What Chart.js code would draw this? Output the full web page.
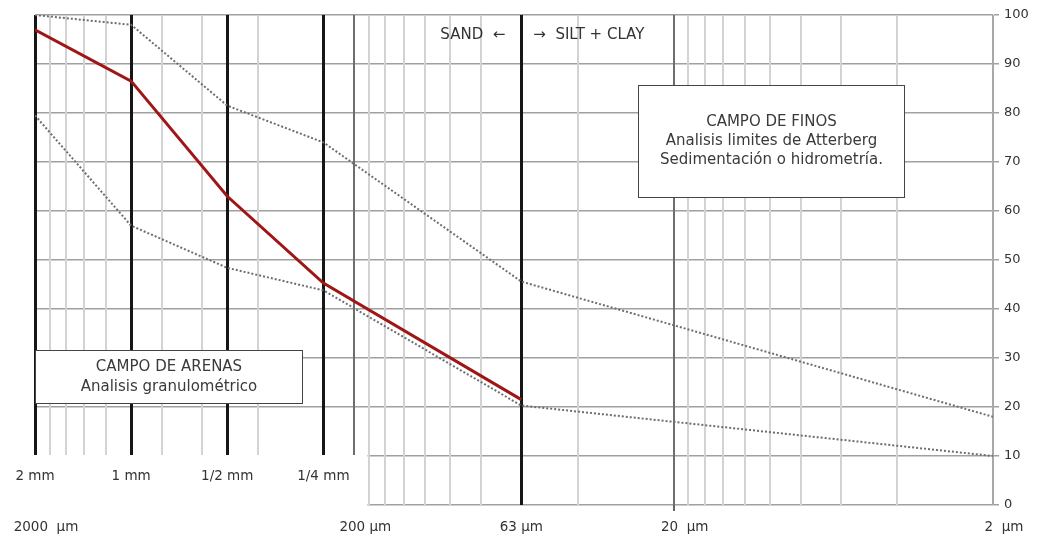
<!DOCTYPE html>
<html>
<head>
<meta charset="utf-8">
<script src="https://cdn.jsdelivr.net/npm/chart.js@4"></script>
<style>
  html, body { margin: 0; padding: 0; background: #fff; }
  #wrap { width: 1037px; height: 537px; }
</style>
</head>
<body>
<div id="wrap"><canvas id="granChart"></canvas></div>
<script>
// grain size (µm) and percent passing
const sampleSizes = [2000, 1000, 500, 250, 60];
const samplePassing = [97, 86.5, 63, 45.3, 21.5];

const envelopeSizes = [2000, 1000, 500, 250, 60, 2];
const upperPassing = [100, 98, 81.5, 74, 45.6, 18];
const lowerPassing = [79.5, 57, 48.4, 43.8, 20.3, 10];

// vertical grid on the log axis
const gridSizes = [2000, 1800, 1600, 1400, 1200, 1000, 800, 600, 500, 400, 250, 200,
  180, 160, 140, 120, 100, 80, 60, 40, 20, 18, 16, 14, 12, 10, 8, 6, 4, 2];
const sieveSizes = [2000, 1000, 500, 250, 60];
const decadeSizes = [200, 20];

const mmSizes = [2000, 1000, 500, 250];
const mmLabels = ['2 mm', '1 mm', '1/2 mm', '1/4 mm'];
const umSizes = [2000, 200, 60, 20, 2];
const umLabels = ['2000  µm', '200 µm', '63 µm', '20  µm', '2  µm'];

const pctTicks = [0, 10, 20, 30, 40, 50, 60, 70, 80, 90, 100];

Chart.defaults.font.family = '"DejaVu Sans", sans-serif';

function pts(xs, ys) {
  return xs.map((x, i) => ({ x: x, y: ys[i] }));
}

// white area under the mm labels + boxes and texts
const annotations = {
  id: 'annotations',
  beforeDatasetsDraw(chart) {
    const ctx = chart.ctx;
    const x = chart.scales.x, y = chart.scales.y;
    const right = x.getPixelForValue(180) - 1.5;
    const top = y.getPixelForValue(10) - 1;
    ctx.save();
    ctx.fillStyle = '#fff';
    ctx.fillRect(0, top, right, chart.height - top);
    ctx.restore();
  },
  afterDraw(chart) {
    const ctx = chart.ctx;
    const x = chart.scales.x, y = chart.scales.y;
    ctx.save();

    function box(x1, x2, y1, y2, lines, lh) {
      const l = Math.round(x.getPixelForValue(x1)) + 0.5;
      const r = Math.round(x.getPixelForValue(x2)) + 0.5;
      const t = Math.round(y.getPixelForValue(y1)) + 0.5;
      const b = Math.round(y.getPixelForValue(y2)) + 0.5;
      ctx.fillStyle = '#fff';
      ctx.fillRect(l, t, r - l, b - t);
      ctx.strokeStyle = '#444';
      ctx.lineWidth = 1;
      ctx.strokeRect(l, t, r - l, b - t);
      ctx.fillStyle = '#3a3a3a';
      ctx.font = '15px "DejaVu Sans", sans-serif';
      ctx.textAlign = 'center';
      ctx.textBaseline = 'middle';
      const cx = (l + r) / 2;
      const cy = (t + b) / 2 - (lines.length - 1) * lh / 2;
      lines.forEach((s, i) => ctx.fillText(s, cx, cy + i * lh));
    }

    box(2000, 291, 31.7, 20.9, ['CAMPO DE ARENAS', 'Analisis granulométrico'], 20);
    box(25.9, 3.8, 85.8, 62.9,
      ['CAMPO DE FINOS', 'Analisis limites de Atterberg', 'Sedimentación o hidrometría.'], 19);

    // sand / silt boundary caption
    const bx = x.getPixelForValue(60);
    ctx.fillStyle = '#333';
    ctx.font = '15px "DejaVu Sans", sans-serif';
    ctx.textBaseline = 'middle';
    ctx.textAlign = 'right';
    ctx.fillText('SAND  \u2190', bx - 16, 35);
    ctx.textAlign = 'left';
    ctx.fillText('\u2192  SILT + CLAY', bx + 12, 35);

    // axis captions
    ctx.font = '13.5px "DejaVu Sans", sans-serif';
    ctx.textAlign = 'center';
    const mmY = y.getPixelForValue(5.8);
    mmSizes.forEach((v, i) => ctx.fillText(mmLabels[i], x.getPixelForValue(v), mmY));
    umSizes.forEach((v, i) => {
      const dx = v === 60 ? 0 : 11;
      ctx.fillText(umLabels[i], x.getPixelForValue(v) + dx, chart.chartArea.bottom + 22);
    });
    ctx.restore();
  }
};

new Chart(document.getElementById('granChart'), {
  type: 'line',
  data: {
    datasets: [
      {
        label: 'Muestra',
        data: pts(sampleSizes, samplePassing),
        borderColor: 'rgb(158, 22, 22)',
        borderWidth: 3,
        pointRadius: 0,
        tension: 0
      },
      {
        label: 'Límite superior',
        data: pts(envelopeSizes, upperPassing),
        borderColor: '#6e6e6e',
        borderWidth: 2,
        borderDash: [2, 2],
        pointRadius: 0,
        tension: 0
      },
      {
        label: 'Límite inferior',
        data: pts(envelopeSizes, lowerPassing),
        borderColor: '#6e6e6e',
        borderWidth: 2,
        borderDash: [2, 2],
        pointRadius: 0,
        tension: 0
      }
    ]
  },
  options: {
    responsive: true,
    maintainAspectRatio: false,
    animation: false,
    layout: { padding: { left: 35, top: 15, right: 0, bottom: 0 } },
    plugins: {
      legend: { display: false },
      tooltip: { enabled: false }
    },
    scales: {
      x: {
        type: 'logarithmic',
        reverse: true,
        min: 2,
        max: 2000,
        afterBuildTicks: s => { s.ticks = gridSizes.map(v => ({ value: v })); },
        afterFit: s => { s.height = 32; },
        ticks: { display: false },
        border: { display: false },
        grid: {
          z: 0,
          drawTicks: true,
          tickLength: 6,
          tickColor: c => (c.tick && c.tick.value === 20 ? '#666' : 'rgba(0,0,0,0)'),
          color: c => {
            const v = c.tick && c.tick.value;
            if (sieveSizes.includes(v)) return '#161616';
            if (decadeSizes.includes(v)) return '#6e6e6e';
            if (v === 2) return '#a8a8a8';
            return '#d3d3d3';
          },
          lineWidth: c => {
            const v = c.tick && c.tick.value;
            if (sieveSizes.includes(v)) return 3;
            return 2;
          }
        }
      },
      y: {
        position: 'right',
        min: 0,
        max: 100,
        afterBuildTicks: s => { s.ticks = pctTicks.map(v => ({ value: v })); },
        afterFit: s => { s.width = 44; },
        ticks: {
          color: '#333',
          font: { size: 13 },
          padding: 5
        },
        border: { color: '#a8a8a8', width: 1 },
        grid: {
          z: -1,
          color: '#a0a0a0',
          lineWidth: 1.5,
          tickLength: 6
        }
      }
    }
  },
  plugins: [annotations]
});
</script>
</body>
</html>
